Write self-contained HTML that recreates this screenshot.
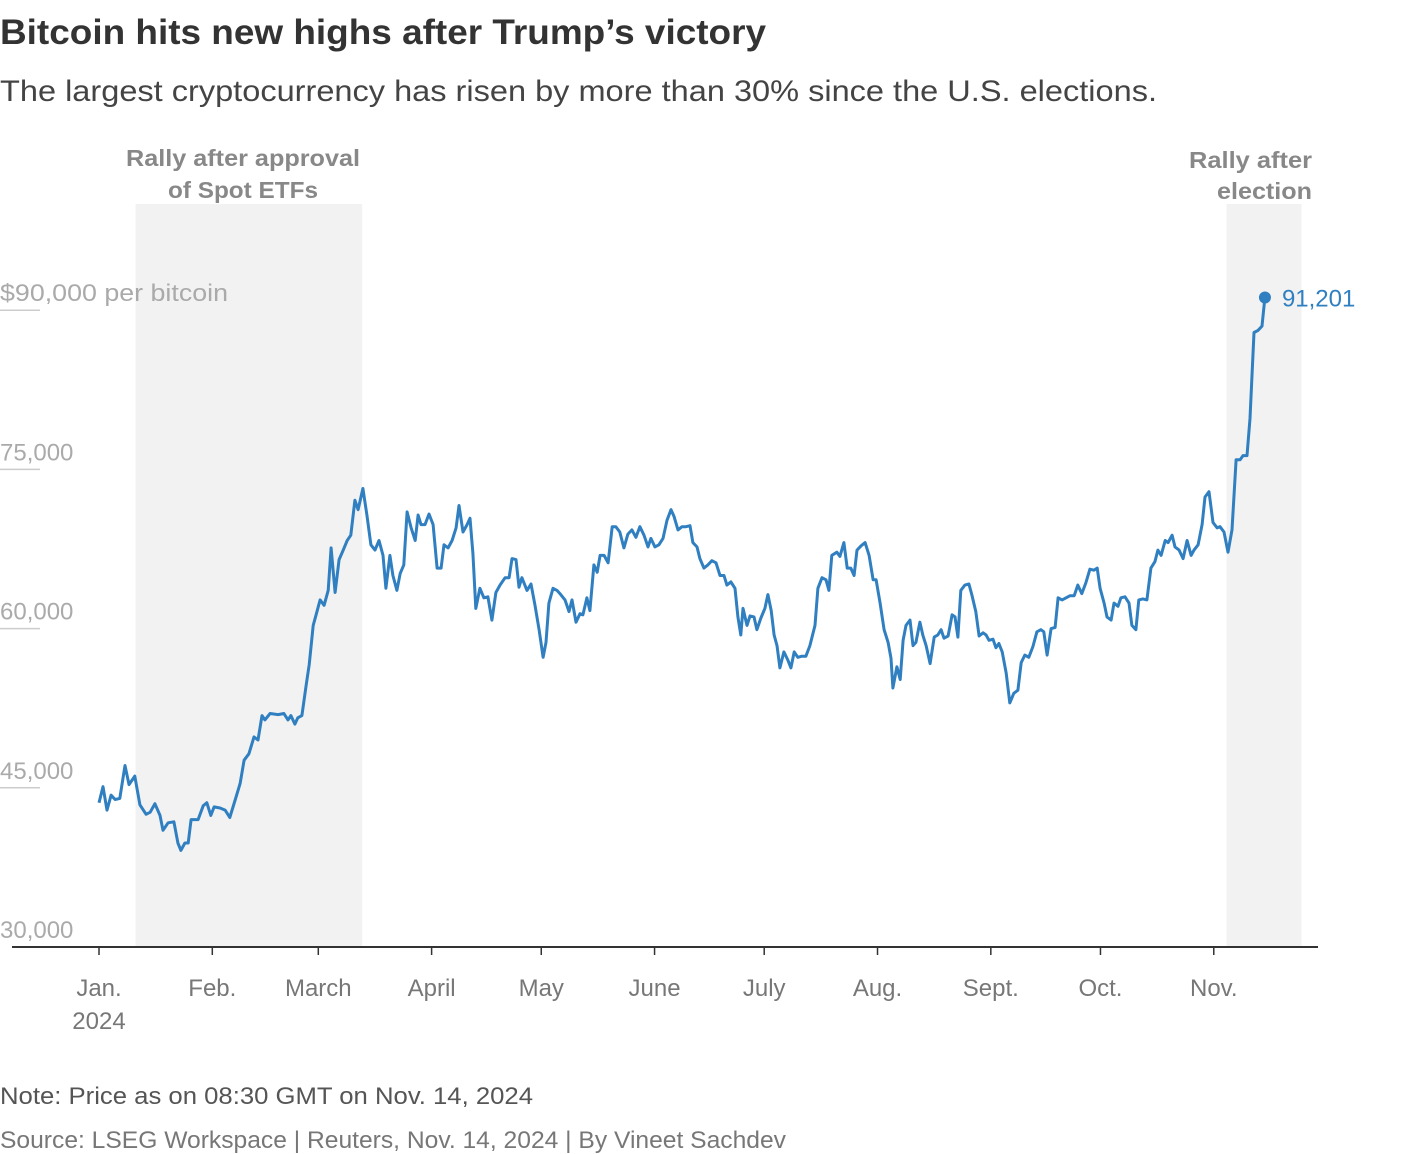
<!DOCTYPE html>
<html><head><meta charset="utf-8"><style>
body{margin:0;background:#fff;width:1420px;height:1154px;overflow:hidden;font-family:"Liberation Sans",sans-serif}
svg{position:absolute;left:0;top:0}
</style></head><body>
<svg width="1420" height="1154" id="chart">
<text x="0" y="44" font-size="35" font-weight="bold" fill="#333" textLength="766" lengthAdjust="spacingAndGlyphs">Bitcoin hits new highs after Trump’s victory</text>
<text x="0" y="101" font-size="30" fill="#444" textLength="1157" lengthAdjust="spacingAndGlyphs">The largest cryptocurrency has risen by more than 30% since the U.S. elections.</text>
<g id="bands"></g>
<g id="yaxis"></g>
<g id="xaxis"></g>
<path id="line" fill="none" stroke="#2f7fc1" stroke-width="3" stroke-linejoin="round"/>
<g id="endlabel"></g>
<text x="0" y="1104" font-size="24" fill="#555" textLength="533" lengthAdjust="spacingAndGlyphs">Note: Price as on 08:30 GMT on Nov. 14, 2024</text>
<text x="0" y="1148" font-size="24" fill="#777" textLength="786" lengthAdjust="spacingAndGlyphs">Source: LSEG Workspace | Reuters, Nov. 14, 2024 | By Vineet Sachdev</text>
</svg>
<script>
const prices=[43600,45100,42900,44300,43900,44000,47100,45300,46100,43400,42500,42700,43500,42400,41000,41700,41800,39800,39100,39800,39800,42000,42000,43300,43600,42400,43200,43100,42900,42200,43800,45400,47600,48200,49800,49500,51800,51400,52000,51900,52000,51400,51800,51000,51600,51800,54700,56600,60300,61300,62700,62200,63600,67600,63400,66500,67400,68300,68800,72100,71200,73200,70700,67900,67400,68300,66900,63800,66900,65000,63600,65200,66000,71000,69500,68300,70700,69800,69800,70800,69800,65700,65700,67900,67600,68300,69500,71600,69100,69800,70400,67100,61900,63800,62900,63000,60800,63400,64100,64800,64800,66600,66500,63900,64800,63600,64200,62200,59900,57300,58700,62400,63800,63600,63300,62700,61600,62700,60600,61400,61300,62900,61700,66000,65300,66900,66900,66200,69600,69600,69100,67600,68900,69300,68600,69600,68800,67700,68500,67700,67900,68500,70200,71200,70600,69300,69600,69600,69700,68100,67700,66600,65700,66000,66400,66200,65000,65000,64100,64400,63800,61100,59400,61900,60300,61200,61100,59900,61000,61900,63200,61700,59400,58400,56300,57800,57000,56300,57800,57300,57400,57400,58400,60300,63800,64800,64600,63600,66900,67200,66800,68100,65700,65700,65000,67400,67800,68100,66900,64600,64600,62400,59900,58700,57200,54400,56400,55200,58900,60300,60800,58400,58700,60600,59400,58400,56700,59200,59400,59900,59100,59300,61300,61100,59200,63600,64100,64200,63200,61600,59300,59600,59400,58900,59000,58200,58600,57800,55800,53000,53900,54200,56800,57500,57300,58300,59700,59900,59700,57500,60000,60100,62900,62700,62900,63100,63100,64100,63300,64300,65600,65500,65700,63800,62400,61100,60800,62400,62100,62900,63000,62400,60300,59900,62700,62800,62700,65700,66300,67400,66900,68300,68100,68800,67700,67400,66600,68300,66900,67400,67900,69800,72400,72900,70000,69500,69600,69100,67200,69300,75900,75900,76300,76300,79800,87900,88100,88500,91201];
const days=[0,1.1,2.2,3.3,4.4,5.7,7.1,8.2,9.8,11.2,12.9,14,15.3,16.7,17.5,18.9,20.5,21.6,22.4,23.5,24.4,25.2,27.1,28.5,29.5,30.6,31.5,33.1,34.5,35.8,37.2,38.6,39.7,41,42.4,43.5,44.6,45.4,46.8,49,50.6,51.7,52.5,53.6,54.4,55.5,56.7,57.5,58.6,59.4,60.5,61.6,62.7,63.5,64.6,65.7,66.8,67.9,68.9,70,70.9,72.2,73.3,74.4,75.5,76.6,77.7,78.5,79.6,80.4,81.5,82.4,83.4,84.3,85.4,86.5,87.3,88.1,89.2,90.3,91.4,92.5,93.6,94.4,95.5,96.6,97.7,98.5,99.6,100.7,101.5,102.3,103.1,104.2,105.3,106.4,107.5,108.6,109.7,111.1,112.2,113,114.1,114.9,115.7,117.1,118.2,119.3,120.4,121.5,122.3,123.1,124.2,125.3,126.1,127.5,128.6,129.4,130.5,131.6,132.4,133.5,134.3,135.4,136.3,137.1,138.2,139.3,140.4,141.4,142.5,143.6,144.7,145.8,146.9,148,149.1,150.2,151,152.1,153.2,154.3,155.4,156.5,157.3,158.4,159.5,160.6,161.7,162.5,163.6,164.4,165.5,166.6,167.7,168.8,169.9,171,171.8,172.9,174,174.8,175.6,176.2,177.3,178.1,179.2,180,181.1,182.2,183,183.9,184.7,185.5,186.3,187.4,188.5,189.3,190.2,191.2,192.3,193.4,194.5,195.9,196.7,197.8,198.9,199.7,200.5,201.9,202.7,203.8,204.7,205.7,206.6,207.4,208.5,209.6,210.7,211.8,212.6,213.7,214.8,215.9,216.7,217.2,218.3,219.2,220,220.8,221.9,222.7,223.5,224.6,225.4,226.3,227.4,228.5,229.5,230.4,231.2,232.3,233.4,234.2,235,235.8,236.9,238,238.8,239.9,240.8,241.9,242.7,243.5,244.6,245.4,246.2,247.1,248.2,249.2,250.3,251.4,252.3,253.3,254.4,255.5,256.6,257.7,258.5,259.4,260.5,261.6,262.4,263.5,264.6,265.7,266.8,267.8,268.9,270,271.1,272.2,273.1,273.9,275,275.8,276.9,277.7,278.8,279.6,280.7,281.8,282.6,283.7,284.5,285.6,286.7,287.8,288.9,289.7,290.6,291.7,292.5,293.6,294.4,295.5,296.6,297.7,298.8,299.6,300.7,301.8,302.6,303.7,304.8,305.9,306.7,307.8,308.9,310,311.1,312.2,313,314.1,314.9,316,317.1,318.2,319];
const yTicks=[30000,45000,60000,75000,90000];
const yLabels=["30,000","45,000","60,000","75,000","$90,000"];
const months=["Jan.","Feb.","March","April","May","June","July","Aug.","Sept.","Oct.","Nov."];
const monthDays=[0,31,60,91,121,152,182,213,244,274,305];
const bandStarts=[10,308.5];
const bandEnds=[72,329];
const NS="http://www.w3.org/2000/svg";
const X=d=>99+d*3.655;
const Y=v=>947-(v-30000)*159.2/15000;
function mk(tag,attrs,parent,txt){const e=document.createElementNS(NS,tag);for(const k in attrs)e.setAttribute(k,attrs[k]);if(txt!==undefined)e.textContent=txt;parent.appendChild(e);return e;}
const bands=document.getElementById('bands');
bandStarts.forEach((s,i)=>{const r=mk('rect',{x:X(s),y:204,width:X(bandEnds[i])-X(s),height:743,fill:'#f2f2f2'},bands);

});
const a1=mk('text',{x:243,y:166,'font-size':23,'font-weight':'bold',fill:'#888','text-anchor':'middle',textLength:234,lengthAdjust:'spacingAndGlyphs'},bands,'Rally after approval');


mk('text',{x:243,y:198,'font-size':23,'font-weight':'bold',fill:'#888','text-anchor':'middle',textLength:150,lengthAdjust:'spacingAndGlyphs'},bands,'of Spot ETFs');
const a2=mk('text',{x:1312,y:168,'font-size':23,'font-weight':'bold',fill:'#888','text-anchor':'end',textLength:123,lengthAdjust:'spacingAndGlyphs'},bands,'Rally after');


mk('text',{x:1312,y:199,'font-size':23,'font-weight':'bold',fill:'#888','text-anchor':'end',textLength:95,lengthAdjust:'spacingAndGlyphs'},bands,'election');
const ya=document.getElementById('yaxis');
yTicks.forEach((v,i)=>{const y=Y(v);
if(i>0){const l=mk('line',{x1:0,x2:40,y1:y,y2:y,stroke:'#ccc','stroke-width':1.5},ya);

}
const attrs={x:0,y:y-9,'font-size':24,fill:'#aaa'};
if(i==4){attrs.textLength=228;attrs.lengthAdjust='spacingAndGlyphs';}
const t=mk('text',attrs,ya,yLabels[i]+(i==4?' per bitcoin':''));

});
const xa=document.getElementById('xaxis');
const ax=mk('line',{x1:12,x2:1318,y1:947,y2:947,stroke:'#333','stroke-width':2},xa);


months.forEach((m,i)=>{const x=X(monthDays[i]);
mk('line',{x1:x,x2:x,y1:947,y2:955,stroke:'#333','stroke-width':1.5},xa);
const t=mk('text',{x:x,y:996,'font-size':24,fill:'#777','text-anchor':'middle'},xa,m);

});
mk('text',{x:X(0),y:1029,'font-size':24,fill:'#777','text-anchor':'middle'},xa,'2024');
const n=Math.min(prices.length,days.length);
let d='';for(let i=0;i<n;i++){d+=(i?'L':'M')+X(days[i]).toFixed(1)+' '+Y(prices[i]).toFixed(1);}
document.getElementById('line').setAttribute('d',d);
const el=document.getElementById('endlabel');
const lx=X(days[n-1]),ly=Y(prices[n-1]);
const dot=mk('circle',{cx:lx,cy:ly,r:6,fill:'#2f7fc1'},el);


const lt=mk('text',{x:lx+17,y:ly+9,'font-size':24,fill:'#2f7fc1'},el,Math.round(prices[n-1]).toLocaleString('en-US'));


</script>
</body></html>
